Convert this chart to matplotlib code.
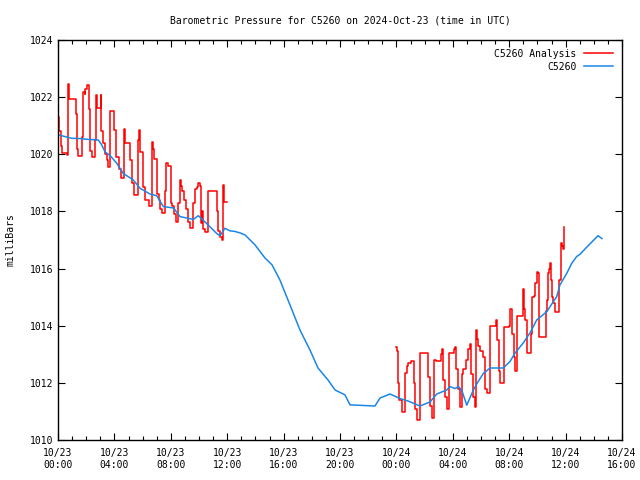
import matplotlib
matplotlib.use("Agg")
import matplotlib.pyplot as plt
from matplotlib.ticker import MultipleLocator
import numpy as np

# Hours since 2024-10-23 00:00 UTC
analysis_hours = [
    0.00, 0.03, 0.10, 0.20, 0.25, 0.66, 0.73, 0.76, 1.25, 1.32, 1.44, 1.68, 1.75, 1.80, 1.90, 1.95,
    2.08, 2.20, 2.27, 2.39, 2.62, 2.68, 2.74, 3.03, 3.07, 3.20, 3.30, 3.45, 3.57, 3.69, 4.00, 4.09,
    4.30, 4.45, 4.70, 4.78, 5.10, 5.22, 5.40, 5.65, 5.72, 5.82, 6.05, 6.15, 6.45, 6.64, 6.69, 6.75,
    6.80, 7.04, 7.15, 7.25, 7.35, 7.59, 7.64, 7.80, 7.99, 8.10, 8.20, 8.35, 8.54, 8.65, 8.75, 8.80,
    8.95, 9.10, 9.25, 9.37, 9.60, 9.72, 9.84, 9.95, 10.07, 10.12, 10.20, 10.26, 10.43, 10.66, 10.72,
    11.25, 11.35, 11.49, 11.61, 11.68, 11.77, 11.96,
]
analysis_values = [
    1021.9, 1021.3, 1020.8, 1020.3, 1020.05, 1019.98, 1022.45, 1021.92, 1021.4, 1020.2, 1019.94,
    1020.6, 1021.9, 1022.19, 1022.1, 1022.3, 1022.43, 1021.6, 1020.1, 1019.92, 1020.5, 1022.08,
    1021.61, 1022.08, 1020.8, 1020.4, 1020.0, 1019.8, 1019.57, 1021.5, 1020.85, 1019.9, 1019.5,
    1019.16, 1020.9, 1020.4, 1019.8, 1019.0, 1018.58, 1020.5, 1020.85, 1020.07, 1018.87, 1018.4,
    1018.19, 1019.5, 1020.44, 1020.2, 1019.82, 1018.6, 1018.4, 1018.1, 1017.93, 1018.7, 1019.71,
    1019.6, 1018.3, 1018.2, 1017.9, 1017.64, 1018.3, 1019.1, 1018.9, 1018.7, 1018.4, 1018.1,
    1017.64, 1017.41, 1018.3, 1018.8, 1018.85, 1018.98, 1018.9, 1017.6, 1018.0, 1017.4, 1017.29,
    1018.7, 1018.72, 1018.0, 1017.3, 1017.12, 1017.0, 1018.93, 1018.34, 1018.34,
]

analysis2_hours = [
    23.97, 24.02, 24.10, 24.20, 24.37, 24.61, 24.73, 24.85, 25.00, 25.25, 25.35, 25.49, 25.67,
    26.27, 26.38, 26.50, 26.67, 26.78, 27.15, 27.21, 27.33, 27.45, 27.57, 27.73, 28.00, 28.10,
    28.16, 28.25, 28.35, 28.51, 28.63, 28.75, 28.95, 29.10, 29.22, 29.30, 29.45, 29.57, 29.65,
    29.70, 29.76, 29.95, 30.17, 30.30, 30.40, 30.64, 31.06, 31.16, 31.30, 31.35, 31.63, 32.01,
    32.06, 32.13, 32.20, 32.32, 32.41, 32.58, 32.89, 32.95, 33.00, 33.07, 33.12, 33.24, 33.55,
    33.60, 33.78, 33.82, 33.95, 34.05, 34.10, 34.14, 34.58, 34.65, 34.77, 34.82, 34.89, 34.93,
    35.01, 35.12, 35.25, 35.56, 35.65, 35.75, 35.84, 35.89,
]
analysis2_values = [
    1013.25, 1013.1, 1012.0, 1011.4, 1010.99, 1012.33, 1012.6, 1012.71, 1012.75, 1012.0, 1011.1,
    1010.70, 1013.03, 1012.2, 1011.2, 1010.76, 1012.8, 1012.75, 1013.0, 1013.17, 1012.1, 1011.5,
    1011.1, 1013.03, 1013.05, 1013.2, 1013.25, 1012.5, 1011.8, 1011.17, 1012.3, 1012.5, 1012.8,
    1013.2, 1013.36, 1012.3, 1011.5, 1011.14, 1013.85, 1013.55, 1013.3, 1013.1, 1012.9, 1011.8,
    1011.66, 1013.99, 1014.2, 1013.5, 1012.4, 1011.98, 1013.97, 1014.0, 1014.57, 1014.6, 1013.7,
    1012.9, 1012.43, 1014.33, 1014.35, 1014.7, 1015.27, 1014.6, 1014.2, 1013.03, 1013.71, 1015.02,
    1015.05, 1015.5, 1015.87, 1015.85, 1014.5, 1013.62, 1014.5, 1014.9, 1015.83, 1016.0, 1016.21,
    1015.6, 1015.0, 1014.8, 1014.49, 1015.6, 1016.88, 1016.8, 1016.7, 1017.47,
]

station_hours = [
    0.00, 0.50, 0.97, 1.6, 2.15, 2.86, 3.10, 3.33, 3.70, 4.16, 4.63, 5.34, 5.82, 6.52, 7.0, 7.47,
    8.20, 8.65, 9.60, 9.95, 10.54, 11.25, 11.49, 11.84, 12.20, 12.55, 12.90, 13.26, 13.97, 14.68,
    15.18, 15.74, 16.45, 17.16, 17.87, 18.44, 19.15, 19.65, 20.35, 20.71, 22.48, 22.84, 23.55,
    24.26, 24.85, 25.67, 26.38, 26.86, 27.57, 27.80, 28.16, 28.40, 28.63, 28.99, 29.46, 29.74,
    30.17, 30.64, 31.11, 31.58, 32.06, 32.41, 33.00, 33.48, 33.95, 34.66, 35.37, 35.60, 36.08,
    36.43, 36.78, 37.02, 37.50, 38.00, 38.30, 38.58,
]
station_values = [
    1020.68, 1020.62, 1020.56, 1020.55, 1020.52, 1020.50, 1020.33, 1020.09, 1019.95, 1019.69,
    1019.33, 1019.10, 1018.81, 1018.61, 1018.55, 1018.17, 1018.12, 1017.82, 1017.72, 1017.85,
    1017.58, 1017.23, 1017.15, 1017.41, 1017.32, 1017.30, 1017.25, 1017.18, 1016.83, 1016.37,
    1016.13, 1015.60, 1014.73, 1013.85, 1013.15, 1012.52, 1012.10, 1011.75, 1011.58, 1011.23,
    1011.19, 1011.47, 1011.61, 1011.45, 1011.36, 1011.19, 1011.33, 1011.61, 1011.75, 1011.87,
    1011.80, 1011.87, 1011.75, 1011.22, 1011.75, 1012.0, 1012.33, 1012.52, 1012.52, 1012.52,
    1012.75, 1013.04, 1013.40, 1013.75, 1014.20, 1014.49, 1015.02, 1015.43, 1015.83, 1016.18,
    1016.42, 1016.50, 1016.75, 1017.00, 1017.15, 1017.05,
]

x_ticks = [0, 4, 8, 12, 16, 20, 24, 28, 32, 36, 40]
x_tick_labels = ["10/23\n00:00", "10/23\n04:00", "10/23\n08:00", "10/23\n12:00", "10/23\n16:00",
                 "10/23\n20:00", "10/24\n00:00", "10/24\n04:00", "10/24\n08:00", "10/24\n12:00",
                 "10/24\n16:00"]
y_ticks = [1010, 1012, 1014, 1016, 1018, 1020, 1022, 1024]

plt.rcParams['font.family'] = ['DejaVu Sans Mono']
fig = plt.figure(figsize=(6.4, 4.8), dpi=100)
ax = fig.add_axes([58/640, 40/480, (622-58)/640, 400/480])

red = '#ff0000'
blue = '#1a86e8'
ax.plot(analysis_hours, analysis_values, color=red, lw=1.1, drawstyle='steps-post', label='C5260 Analysis')
ax.plot(analysis2_hours, analysis2_values, color=red, lw=1.1, drawstyle='steps-post')
ax.plot(station_hours, station_values, color=blue, lw=1.1, label='C5260')

ax.set_xlim(0, 40)
ax.set_ylim(1010, 1024)
ax.set_xticks(x_ticks)
ax.set_xticklabels(x_tick_labels, fontsize=7)
ax.xaxis.set_minor_locator(MultipleLocator(1))
ax.set_yticks(y_ticks)
ax.set_yticklabels([str(v) for v in y_ticks], fontsize=7)
ax.tick_params(axis='both', which='both', direction='in', top=True, right=True, width=0.8)
ax.tick_params(axis='both', which='major', length=5)
ax.tick_params(axis='x', which='minor', length=3)
ax.tick_params(axis='x', pad=6)
for s in ax.spines.values():
    s.set_linewidth(1.0)

ax.set_title('Barometric Pressure for C5260 on 2024-Oct-23 (time in UTC)', fontsize=7, pad=12)
ax.set_ylabel('milliBars', fontsize=7, labelpad=10)

ax.legend(loc='upper right', frameon=False, markerfirst=False, fontsize=7, handlelength=3.0,
          borderaxespad=0.6, labelspacing=0.3, borderpad=0.3)

fig.savefig('out.png', dpi=100)
